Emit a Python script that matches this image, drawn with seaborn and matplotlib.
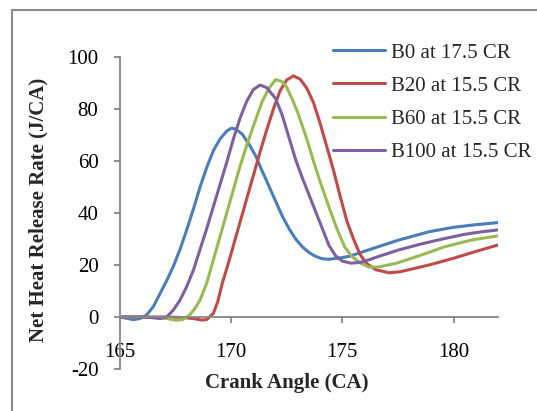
import pandas as pd
import matplotlib.pyplot as plt
import seaborn as sns
from matplotlib.lines import Line2D

# B0 at 17.5 CR
b0_x = [165.0, 165.3, 165.6, 165.9, 166.2, 166.5, 166.8, 167.1, 167.4, 167.7, 168.0, 168.3,
        168.6, 168.9, 169.2, 169.5, 169.8, 170.0, 170.2, 170.5, 170.8, 171.1, 171.4, 171.7,
        172.0, 172.3, 172.6, 172.9, 173.2, 173.5, 173.8, 174.1, 174.4, 174.8, 175.3, 176.0,
        176.6, 177.5, 178.9, 180.0, 181.0, 182.0]
b0_y = [0, -0.5, -1.0, -0.6, 0.8, 4, 9, 14, 19.5, 26, 33.5, 41.5,
        50, 57.5, 64, 68.5, 71.5, 72.6, 72.3, 70.3, 66.5, 62, 56, 50.3,
        44.5, 38.8, 34, 30, 27, 24.8, 23.3, 22.4, 22.2, 22.6, 23.3, 25.3,
        27, 29.5, 32.8, 34.5, 35.5, 36.3]

# B20 at 15.5 CR
b20_x = [165.0, 166.0, 167.0, 167.8, 168.3, 168.7, 168.9, 169.2, 169.4, 169.6, 169.85, 170.1,
         170.4, 170.7, 171.0, 171.3, 171.6, 171.9, 172.2, 172.5, 172.8, 173.1, 173.4, 173.7,
         174.0, 174.3, 174.6, 174.9, 175.2, 175.5, 175.8, 176.1, 176.5, 177.1, 177.6, 178.2,
         178.9, 180.0, 181.0, 182.0]
b20_y = [0, 0, 0, -0.2, -0.6, -1.2, -1.0, 1.4, 6, 13, 20, 27.5,
         36.5, 45.5, 54.5, 63.5, 72, 80, 87, 91.2, 92.7, 91.5, 88, 82.5,
         74.5, 65.5, 56.5, 46.5, 37, 30, 24, 20.5, 18.2, 17, 17.4, 18.6,
         20, 22.6, 25.2, 27.7]

# B60 at 15.5 CR
b60_x = [165.0, 166.0, 166.7, 167.1, 167.5, 167.8, 168.1, 168.35, 168.6, 168.9, 169.2, 169.5,
         169.8, 170.1, 170.4, 170.7, 171.0, 171.4, 171.7, 172.0, 172.3, 172.5, 172.76, 173.0,
         173.4, 173.7, 174.0, 174.45, 174.8, 175.1, 175.4, 175.8, 176.2, 176.6, 177.4, 178.5,
         179.6, 180.8, 182.0]
b60_y = [0, 0, -0.2, -0.6, -1.2, -1.0, 0.5, 3, 6.5, 13, 22, 31,
         40, 49, 58, 66, 73.5, 83, 88, 91.3, 90.5, 88.3, 83.5, 78.5,
         68.5, 60, 52, 41, 33, 27, 23.5, 20.8, 19.2, 19.2, 20.6, 23.7,
         27, 29.6, 31.2]

# B100 at 15.5 CR
b100_x = [165.0, 166.0, 166.5, 166.8, 167.1, 167.4, 167.7, 168.0, 168.3, 168.6, 168.9, 169.2,
          169.5, 169.8, 170.1, 170.4, 170.7, 171.0, 171.3, 171.6, 172.0, 172.3, 172.6, 172.9,
          173.2, 173.5, 173.8, 174.1, 174.4, 174.7, 175.0, 175.4, 175.8, 176.2, 176.6, 177.5,
          178.5, 179.5, 180.5, 181.2, 182.0]
b100_y = [0, 0, -0.3, -0.6, 0, 2.7, 6.5, 11.7, 18, 26, 34, 42.5,
          51, 59.5, 68.5, 76.5, 83, 87.5, 89.2, 88.2, 84, 77.5, 69, 60.5,
          53.5, 47, 40.5, 34, 27.5, 23.5, 21.5, 20.7, 21, 22, 23.2, 25.7,
          28, 30, 31.8, 32.7, 33.5]

labels = ["B0 at 17.5 CR", "B20 at 15.5 CR", "B60 at 15.5 CR", "B100 at 15.5 CR"]
colors = ["#4A7EBB", "#BE4B48", "#98B954", "#7D60A0"]

frames = []
for lab, xs, ys in zip(labels, [b0_x, b20_x, b60_x, b100_x], [b0_y, b20_y, b60_y, b100_y]):
    frames.append(pd.DataFrame({"angle": xs, "hrr": ys, "fuel": lab}))
df = pd.concat(frames, ignore_index=True)

sns.set_style("white")
plt.rcParams["font.family"] = ["Liberation Serif", "DejaVu Serif"]
plt.rcParams["axes.unicode_minus"] = False
fs = 15

fig = plt.figure(figsize=(5.37, 4.11), dpi=100)
ax = fig.add_axes([120 / 537, 1 - 369 / 411, 378 / 537, 312 / 411])

sns.lineplot(data=df, x="angle", y="hrr", hue="fuel", hue_order=labels,
             palette=colors, estimator=None, sort=True, linewidth=2.2, ax=ax)

ax.set_xlim(165, 182)
ax.set_ylim(-20, 100)
ax.set_xticks([165, 170, 175, 180])
ax.set_yticks(range(-20, 101, 20))

axis_col = "#868686"
for s in ["top", "right"]:
    ax.spines[s].set_visible(False)
ax.spines["bottom"].set_position(("data", 0))
ax.spines["left"].set_color(axis_col)
ax.spines["bottom"].set_color(axis_col)
ax.spines["left"].set_linewidth(1.3)
ax.spines["bottom"].set_linewidth(1.3)
ax.tick_params(axis="both", direction="out", length=4.5, width=1.3, color=axis_col,
               labelsize=fs, labelcolor="black")
ax.tick_params(axis="x", bottom=True, pad=14)
ax.tick_params(axis="y", left=True, pad=11)
ax.patch.set_alpha(0)

ax.set_xlabel("Crank Angle (CA)", fontsize=fs, fontweight="bold")
ax.set_ylabel("Net Heat Release Rate (J/CA)", fontsize=fs, fontweight="bold")
ax.xaxis.set_label_coords((287 - 120) / 378, (369 - 383) / 312)
ax.xaxis.label.set_va("center")
ax.yaxis.set_label_coords((38 - 120) / 378, (369 - 210) / 312)
ax.yaxis.label.set_va("center")

ax.legend(loc="upper left", bbox_to_anchor=(333 / 537, 1 - 43 / 411),
          bbox_transform=fig.transFigure, frameon=False, fontsize=fs,
          handlelength=2.5, handletextpad=0.3, labelspacing=0.65,
          borderpad=0, borderaxespad=0)

# chart area border (only top and left edges are visible in the crop)
fig.add_artist(Line2D([12 / 537, 12 / 537], [0, 1 - 10 / 411], transform=fig.transFigure,
                      color="#8c8c8c", linewidth=1.5))
fig.add_artist(Line2D([12 / 537, 1], [1 - 10 / 411, 1 - 10 / 411], transform=fig.transFigure,
                      color="#8c8c8c", linewidth=1.5))

fig.savefig("out.png", dpi=100)
